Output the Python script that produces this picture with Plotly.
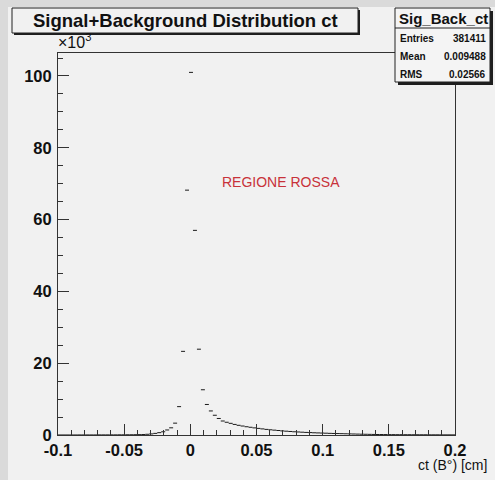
import plotly.graph_objects as go

# ---- data (counts per bin, 100 bins from -0.1 to 0.2) ----
x_min = -0.1
x_max = 0.2
n_bins = 100
counts = [
    10, 10, 10, 10, 10, 20, 20, 20, 20, 20,
    30, 30, 30, 40, 40, 50, 50, 60, 70, 80,
    100, 130, 200, 300, 450, 650, 900, 1400, 2000, 3300,
    7900, 23300, 68200, 101000, 57000, 23900, 12600, 8500, 6700, 5500,
    4600, 3900, 3550, 3250, 2950, 2700, 2500, 2300, 2150, 1980,
    1840, 1700, 1560, 1450, 1350, 1250, 1140, 1060, 980, 900,
    840, 780, 720, 670, 620, 580, 540, 500, 460, 430,
    400, 370, 340, 310, 280, 250, 220, 200, 180, 160,
    140, 130, 120, 110, 100, 90, 90, 80, 80, 70,
    70, 60, 60, 50, 50, 50, 40, 40, 40, 30,
]
x_ticks = [-0.1, -0.05, 0, 0.05, 0.1, 0.15, 0.2]
x_tick_labels = ["-0.1", "-0.05", "0", "0.05", "0.1", "0.15", "0.2"]
y_ticks = [0, 20, 40, 60, 80, 100]
y_tick_labels = ["0", "20", "40", "60", "80", "100"]
hist_title = "Signal+Background Distribution ct"
stats_name = "Sig_Back_ct"
stats_labels = ["Entries", "Mean", "RMS"]
stats_values = ["381411", "0.009488", "0.02566"]
x_title = "ct (B°) [cm]"
note_text = "REGIONE ROSSA"

# ---- build step segments from bins ----
bw = (x_max - x_min) / n_bins
xs, ys = [], []
for i, c in enumerate(counts):
    lo = x_min + i * bw
    xs += [lo, lo + bw, None]
    ys += [c / 1000.0, c / 1000.0, None]

W, H = 495, 480
L, R, T, B = 58, 40, 53, 45
PW, PH = W - L - R, H - T - B


def px(x):
    return (x - L) / PW


def py(y):
    return 1 - (y - T) / PH


FONT = "Liberation Sans, Arial, Helvetica, sans-serif"
PAD = "#f1f1f1"
OUTER = "#dadada"

fig = go.Figure()
fig.add_trace(go.Scatter(x=xs, y=ys, mode="lines",
                         line=dict(color="#1a1a1a", width=1),
                         hoverinfo="skip", showlegend=False))

shapes = []
# outer strips
shapes.append(dict(type="rect", xref="paper", yref="paper", layer="below",
                   x0=px(0), x1=px(W), y0=py(0), y1=py(H),
                   fillcolor=OUTER, line=dict(width=0)))
shapes.append(dict(type="rect", xref="paper", yref="paper", layer="below",
                   x0=px(8), x1=px(W), y0=py(7), y1=py(H),
                   fillcolor=PAD, line=dict(width=0)))


def box(x0, y0, x1, y1, fill, sh=3):
    # shadow
    shapes.append(dict(type="rect", xref="paper", yref="paper", layer="above",
                       x0=px(x0 + sh), x1=px(x1 + sh), y0=py(y1 + sh), y1=py(y0 + sh),
                       fillcolor="#1e1e1e", line=dict(width=0)))
    shapes.append(dict(type="rect", xref="paper", yref="paper", layer="above",
                       x0=px(x0), x1=px(x1), y0=py(y1), y1=py(y0),
                       fillcolor=fill, line=dict(color="#222222", width=1)))


box(12, 8, 358, 33, PAD, sh=2)
box(395, 8, 490, 82, "#f4f4f4", sh=3)
shapes.append(dict(type="line", xref="paper", yref="paper", layer="above",
                   x0=px(395), x1=px(490), y0=py(28), y1=py(28),
                   line=dict(color="#222222", width=1)))

annotations = []
annotations.append(dict(xref="paper", yref="paper", x=px(185), y=py(21),
                        text=f"<b>{hist_title}</b>", showarrow=False,
                        xanchor="center", yanchor="middle",
                        font=dict(family=FONT, size=18.5, color="#111111")))
annotations.append(dict(xref="paper", yref="paper", x=px(443), y=py(18),
                        text=f"<b>{stats_name}</b>", showarrow=False,
                        xanchor="center", yanchor="middle",
                        font=dict(family=FONT, size=15, color="#111111")))
for k, (lab, val) in enumerate(zip(stats_labels, stats_values)):
    yy = 39 + k * 17.5
    annotations.append(dict(xref="paper", yref="paper", x=px(398), y=py(yy),
                            text=f"<b>{lab}</b>", showarrow=False,
                            xanchor="left", yanchor="middle",
                            font=dict(family=FONT, size=10, color="#111111")))
    annotations.append(dict(xref="paper", yref="paper", x=px(488), y=py(yy),
                            text=f"<b>{val}</b>", showarrow=False,
                            xanchor="right", yanchor="middle",
                            font=dict(family=FONT, size=10, color="#111111")))
annotations.append(dict(xref="paper", yref="paper", x=px(56), y=py(53),
                        text="×10<sup>3</sup>", showarrow=False,
                        xanchor="left", yanchor="bottom",
                        font=dict(family=FONT, size=16, color="#111111")))
annotations.append(dict(xref="paper", yref="paper", x=px(281), y=py(182),
                        text=note_text, showarrow=False,
                        xanchor="center", yanchor="middle",
                        font=dict(family=FONT, size=14, color="#c8323a")))
annotations.append(dict(xref="paper", yref="paper", x=px(489), y=py(465),
                        text=x_title, showarrow=False,
                        xanchor="right", yanchor="middle",
                        font=dict(family=FONT, size=14, color="#111111")))

fig.update_layout(
    width=W, height=H,
    margin=dict(l=L, r=R, t=T, b=B, pad=0),
    paper_bgcolor=PAD, plot_bgcolor=PAD,
    shapes=shapes, annotations=annotations,
    showlegend=False,
    xaxis=dict(range=[x_min, x_max], showgrid=False, zeroline=False,
               showline=True, linecolor="#333333", linewidth=1, mirror=True,
               ticks="inside", ticklen=11, tickcolor="#333333",
               tickvals=x_ticks, ticktext=[f"<b>{t}</b>" for t in x_tick_labels],
               tickfont=dict(family=FONT, size=16.5, color="#111111"),
               minor=dict(dtick=0.01, tick0=0, ticks="inside", ticklen=5,
                          tickcolor="#333333", showgrid=False)),
    yaxis=dict(range=[0, 106.4], showgrid=False, zeroline=False,
               showline=True, linecolor="#333333", linewidth=1, mirror=True,
               ticks="inside", ticklen=11, tickcolor="#333333",
               tickvals=y_ticks, ticktext=[f"<b>{t}</b>" for t in y_tick_labels],
               tickfont=dict(family=FONT, size=16.5, color="#111111"),
               ticklabelstandoff=2,
               minor=dict(dtick=5, tick0=0, ticks="inside", ticklen=5,
                          tickcolor="#333333", showgrid=False)),
)

fig.write_html(
    "out.html",
    config={"displayModeBar": False},
    post_script="document.body.style.margin='0px';document.body.style.background='%s';" % PAD,
)
